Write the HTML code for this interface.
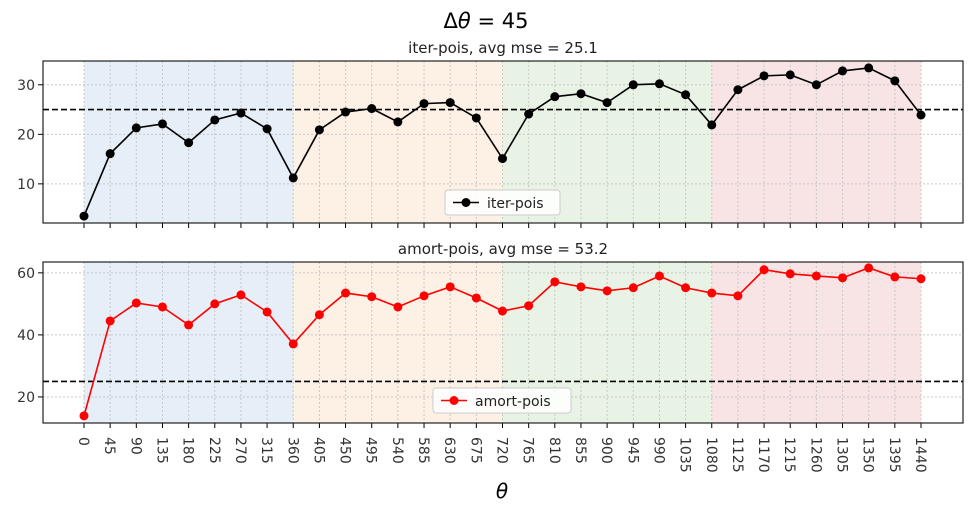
<!DOCTYPE html>
<html><head><meta charset="utf-8"><style>
body{margin:0;background:#fff}
svg{font-family:"DejaVu Sans","Liberation Sans",sans-serif}
</style></head><body>
<svg id="chart" width="971" height="511" xmlns="http://www.w3.org/2000/svg">
<text x="486" y="28" font-size="21" text-anchor="middle" font-family="DejaVu Sans">Δ<tspan font-style="italic">θ</tspan> = 45</text>
<text x="502" y="498" font-size="20" text-anchor="middle" font-style="italic" font-family="DejaVu Sans">θ</text>
</svg>
<script>
const categories=[0,45,90,135,180,225,270,315,360,405,450,495,540,585,630,675,720,765,810,855,900,945,990,1035,1080,1125,1170,1215,1260,1305,1350,1395,1440];
const iterValues=[3.5,16.1,21.3,22.1,18.3,22.9,24.3,21.1,11.2,20.9,24.5,25.2,22.5,26.2,26.4,23.3,15.1,24.1,27.6,28.2,26.4,30.0,30.2,28.0,21.9,29.0,31.8,32.0,30.0,32.8,33.4,30.8,23.9];
const amortValues=[13.9,44.5,50.3,49.0,43.2,50.0,52.9,47.4,37.1,46.5,53.5,52.3,49.0,52.6,55.5,51.9,47.7,49.4,57.1,55.5,54.2,55.2,59.0,55.2,53.5,52.6,61.0,59.7,59.0,58.4,61.6,58.7,58.1];
const iterTicks=[10,20,30];
const amortTicks=[20,40,60];
const regions=[[0,360,'#e6eef7'],[360,720,'#fdf0e4'],[720,1080,'#e8f3e6'],[1080,1440,'#f8e4e4']];
const refLine=25;
const NS='http://www.w3.org/2000/svg';
const svg=document.getElementById('chart');
function mk(tag,attrs,parent){const e=document.createElementNS(NS,tag);for(const k in attrs)e.setAttribute(k,attrs[k]);(parent||svg).appendChild(e);return e;}
const X0=43,X1=963;
const xs=v=>84+(v-0)*(921-84)/1440;
function panel(top,bot,ymin,ymax,vals,ticks,color,title,label,name,legX,legW,legY){
  const ys=v=>bot-(v-ymin)*(bot-top)/(ymax-ymin);
  const g=mk('g',{});
  
  
  regions.forEach(r=>{const e=mk('rect',{x:xs(r[0]),y:top,width:xs(r[1])-xs(r[0]),height:bot-top,fill:r[2]},g);
    
    });
  categories.forEach(c=>{const e=mk('line',{x1:xs(c),x2:xs(c),y1:top,y2:bot,stroke:'#c8c8c8','stroke-dasharray':'2,2','stroke-width':1},g);
    
    });
  ticks.forEach(t=>{const y=ys(t);
    const e=mk('line',{x1:X0,x2:X1,y1:y,y2:y,stroke:'#c8c8c8','stroke-dasharray':'2,2'},g);
    
    
    mk('line',{x1:X0-5,x2:X0,y1:y,y2:y,stroke:'#000'},g);
    const tx=mk('text',{x:X0-8,y:y+5,'font-size':14,'text-anchor':'end',fill:'#333'},g);tx.textContent=t;
    
    });
  const rl=mk('line',{x1:X0,x2:X1,y1:ys(refLine),y2:ys(refLine),stroke:'#000','stroke-width':1.6,'stroke-dasharray':'6,3'},g);
  
  
  const pts=categories.map((c,i)=>xs(c)+','+ys(vals[i])).join(' ');
  const pl=mk('polyline',{points:pts,fill:'none',stroke:color,'stroke-width':1.6},g);
  
  
  categories.forEach((c,i)=>{const p=mk('circle',{cx:xs(c),cy:ys(vals[i]),r:4.5,fill:color},g);
    
    });
  categories.forEach(c=>{mk('line',{x1:xs(c),x2:xs(c),y1:bot,y2:bot+5,stroke:'#000'},g);});
  const fr=mk('rect',{x:X0,y:top,width:X1-X0,height:bot-top,fill:'none',stroke:'#222','stroke-width':1.2},g);
  
  
  const tt=mk('text',{x:(X0+X1)/2,y:top-8,'font-size':15,'text-anchor':'middle',fill:'#222'},g);tt.textContent=title;
  
  
  const lg=mk('g',{},g);
  
  
  mk('rect',{x:legX,y:legY,width:legW,height:25,rx:3,fill:'#fff','fill-opacity':0.85,stroke:'#ccc'},lg);
  mk('line',{x1:legX+8,x2:legX+34,y1:legY+12.5,y2:legY+12.5,stroke:color,'stroke-width':1.6},lg);
  mk('circle',{cx:legX+21,cy:legY+12.5,r:4.5,fill:color},lg);
  const lt=mk('text',{x:legX+42,y:legY+18,'font-size':14,fill:'#222'},lg);lt.textContent=label;
}
panel(61,223,2.1,34.8,iterValues,iterTicks,'#000','iter-pois, avg mse = 25.1','iter-pois','iter-pois',445,115,190);
panel(262,423,11.6,63.5,amortValues,amortTicks,'#f00','amort-pois, avg mse = 53.2','amort-pois','amort-pois',433,138,388);
categories.forEach(c=>{const t=mk('text',{x:0,y:0,'font-size':14,fill:'#333',transform:`translate(${xs(c)-5},437) rotate(90)`});
  t.textContent=c;
  
  });
</script>
</body></html>
